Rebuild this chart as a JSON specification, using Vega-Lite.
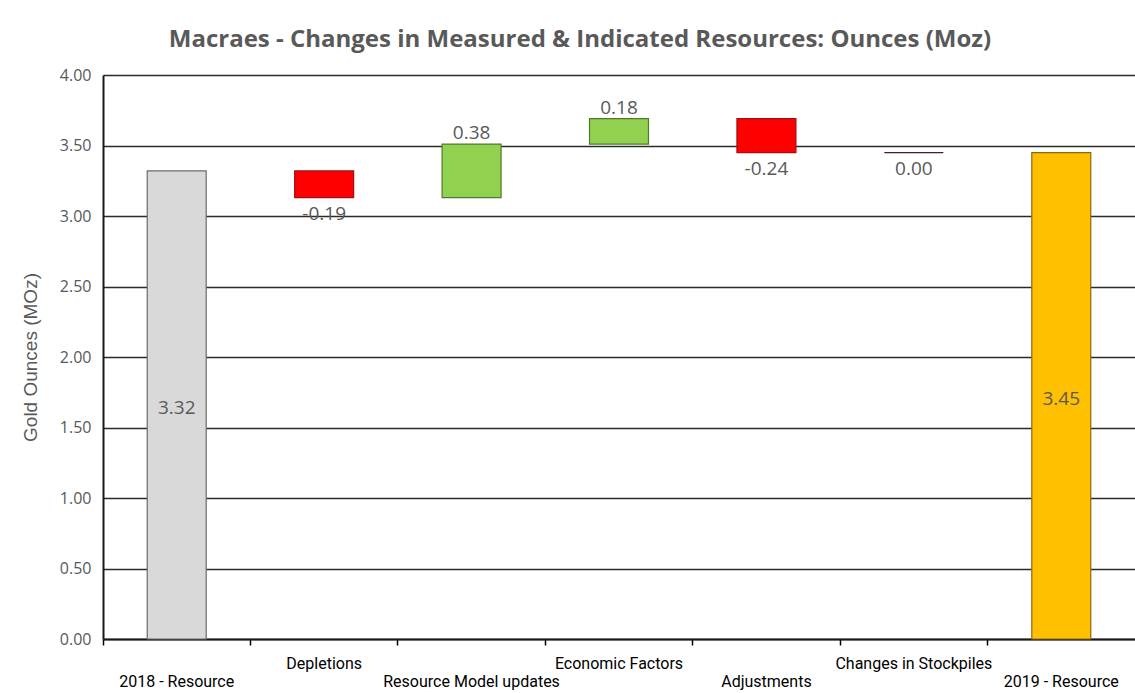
{
  "$schema": "https://vega.github.io/schema/vega-lite/v6.json",
  "width": 1032,
  "height": 564,
  "autosize": {"type": "none"},
  "padding": {"left": 103, "top": 75, "right": 0, "bottom": 54},
  "background": "white",
  "title": {
    "text": "Macraes - Changes in Measured & Indicated Resources: Ounces (Moz)",
    "font": "Open Sans",
    "fontSize": 24,
    "fontWeight": "bold",
    "color": "#595959",
    "anchor": "middle",
    "dx": -39,
    "baseline": "alphabetic",
    "offset": -4
  },
  "config": {"view": {"stroke": null}},
  "data": {
    "values": [
      {"category": "2018 - Resource", "start": 0, "end": 3.32, "change": 3.32, "label": "3.32", "type": "start"},
      {"category": "Depletions", "start": 3.32, "end": 3.13, "change": -0.19, "label": "-0.19", "type": "decrease"},
      {"category": "Resource Model updates", "start": 3.13, "end": 3.51, "change": 0.38, "label": "0.38", "type": "increase"},
      {"category": "Economic Factors", "start": 3.51, "end": 3.69, "change": 0.18, "label": "0.18", "type": "increase"},
      {"category": "Adjustments", "start": 3.69, "end": 3.45, "change": -0.24, "label": "-0.24", "type": "decrease"},
      {"category": "Changes in Stockpiles", "start": 3.45, "end": 3.45, "change": 0.0, "label": "0.00", "type": "nochange"},
      {"category": "2019 - Resource", "start": 0, "end": 3.45, "change": 3.45, "label": "3.45", "type": "end"}
    ]
  },
  "encoding": {
    "x": {
      "field": "category",
      "type": "nominal",
      "sort": null,
      "scale": {"paddingInner": 0, "paddingOuter": 0},
      "axis": {
        "title": null,
        "bandPosition": 0,
        "labelAngle": 0,
        "labelOverlap": false,
        "labelBound": false,
        "labelFont": "Roboto",
        "labelFontSize": 16,
        "labelColor": "#000000",
        "labelBaseline": "top",
        "labelLineHeight": 18,
        "labelPadding": 10,
        "labelExpr": "indexof(['Depletions','Economic Factors','Changes in Stockpiles'], datum.label) >= 0 ? datum.label : ['', datum.label]",
        "ticks": true,
        "tickSize": 6,
        "tickColor": "#000000",
        "tickWidth": 1.5,
        "domainColor": "#1a1a1a",
        "domainWidth": 2,
        "grid": false
      }
    }
  },
  "layer": [
    {
      "mark": {"type": "bar", "width": {"band": 0.4}, "strokeWidth": 1.2},
      "encoding": {
        "y": {
          "field": "start",
          "type": "quantitative",
          "scale": {"domain": [0, 4], "nice": false},
          "axis": {
            "title": "Gold Ounces (MOz)",
            "titleFont": "Liberation Sans",
            "titleFontSize": 19,
            "titleFontWeight": "normal",
            "titleColor": "#595959",
            "titlePadding": 19,
            "values": [0, 0.5, 1, 1.5, 2, 2.5, 3, 3.5, 4],
            "format": ".2f",
            "labelFont": "Open Sans",
            "labelFontSize": 16,
            "labelColor": "#595959",
            "labelPadding": 12,
            "ticks": false,
            "domainColor": "#1a1a1a",
            "domainWidth": 2,
            "grid": true,
            "gridColor": "#2a2a2a",
            "gridWidth": 1.5
          }
        },
        "y2": {"field": "end"},
        "fill": {
          "field": "type",
          "type": "nominal",
          "scale": {
            "domain": ["start", "decrease", "increase", "nochange", "end"],
            "range": ["#D9D9D9", "#FF0000", "#92D050", "#FF0000", "#FFC000"]
          },
          "legend": null
        },
        "stroke": {
          "field": "type",
          "type": "nominal",
          "scale": {
            "domain": ["start", "decrease", "increase", "nochange", "end"],
            "range": ["#6b6b6b", "#a01010", "#4f7a2a", "#4a1e22", "#8a6a10"]
          },
          "legend": null
        },
        "strokeWidth": {
          "field": "type",
          "type": "nominal",
          "scale": {
            "domain": ["start", "decrease", "increase", "nochange", "end"],
            "range": [1.2, 1.2, 1.2, 2.5, 1.2]
          },
          "legend": null
        }
      }
    },
    {
      "transform": [
        {"filter": "datum.type === 'start' || datum.type === 'end'"},
        {"calculate": "(datum.start + datum.end) / 2", "as": "mid"}
      ],
      "mark": {"type": "text", "font": "Open Sans", "fontSize": 19, "color": "#595959", "baseline": "middle", "dy": 3},
      "encoding": {
        "y": {"field": "mid", "type": "quantitative"},
        "text": {"field": "label", "type": "nominal"}
      }
    },
    {
      "transform": [{"filter": "datum.type === 'increase'"}],
      "mark": {"type": "text", "font": "Open Sans", "fontSize": 19, "color": "#595959", "baseline": "alphabetic", "dy": -5},
      "encoding": {
        "y": {"field": "end", "type": "quantitative"},
        "text": {"field": "label", "type": "nominal"}
      }
    },
    {
      "transform": [{"filter": "datum.type === 'decrease' || datum.type === 'nochange'"}],
      "mark": {"type": "text", "font": "Open Sans", "fontSize": 19, "color": "#595959", "baseline": "top", "dy": 7},
      "encoding": {
        "y": {"field": "end", "type": "quantitative"},
        "text": {"field": "label", "type": "nominal"}
      }
    }
  ]
}
